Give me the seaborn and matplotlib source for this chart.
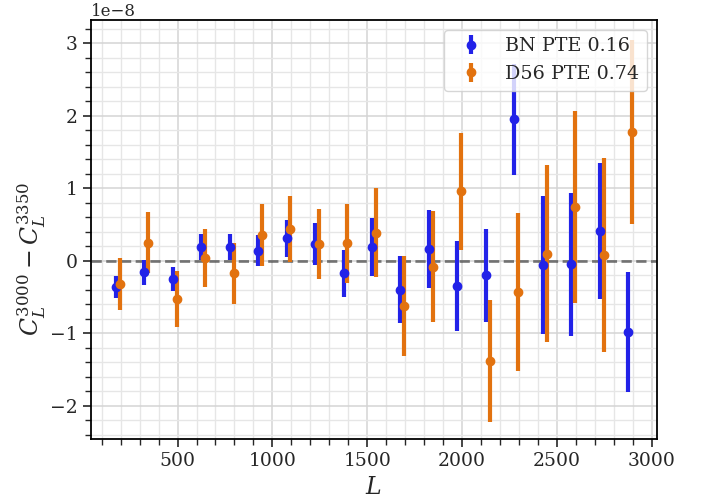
import numpy as np
import pandas as pd
import matplotlib
matplotlib.use("Agg")
import matplotlib.pyplot as plt
import seaborn as sns
from matplotlib.ticker import MultipleLocator

# multipole bin centres
L_bn = [175, 325, 475, 625, 775, 925, 1075, 1225, 1375, 1525,
        1675, 1825, 1975, 2125, 2275, 2425, 2575, 2725, 2875]
L_d56 = [195, 345, 495, 645, 795, 945, 1095, 1245, 1395, 1545,
         1695, 1845, 1995, 2145, 2295, 2445, 2595, 2745, 2895]

# C_L^3000 - C_L^3350, in units of 1e-8
bn_val = [-0.36, -0.16, -0.25, 0.19, 0.19, 0.14, 0.31, 0.23, -0.17, 0.19,
          -0.40, 0.16, -0.35, -0.20, 1.95, -0.06, -0.05, 0.41, -0.98]
bn_err = [0.15, 0.17, 0.165, 0.18, 0.185, 0.21, 0.255, 0.29, 0.325, 0.395,
          0.46, 0.54, 0.62, 0.64, 0.77, 0.955, 0.99, 0.94, 0.825]
d56_val = [-0.32, 0.25, -0.53, 0.04, -0.17, 0.36, 0.44, 0.23, 0.24, 0.39,
           -0.62, -0.08, 0.96, -1.38, -0.43, 0.10, 0.74, 0.08, 1.78]
d56_err = [0.36, 0.425, 0.385, 0.395, 0.42, 0.425, 0.455, 0.485, 0.545, 0.61,
           0.69, 0.76, 0.805, 0.845, 1.085, 1.225, 1.32, 1.34, 1.27]

labels = ["BN PTE 0.16", "D56 PTE 0.74"]
colors = ["#2222e8", "#e2720f"]

sns.set_theme(style="ticks")
plt.rcParams["font.family"] = ["DejaVu Serif"]
plt.rcParams["mathtext.fontset"] = "dejavuserif"

df = pd.DataFrame({
    "L": L_bn + L_d56,
    "val": np.array(bn_val + d56_val) * 1e-8,
    "err": np.array(bn_err + d56_err) * 1e-8,
    "field": [labels[0]] * len(L_bn) + [labels[1]] * len(L_d56),
})

fig, ax = plt.subplots(figsize=(7.04, 5.03), dpi=100)
fig.subplots_adjust(left=0.129, right=0.933, top=0.960, bottom=0.127)

for lab, col in zip(labels, colors):
    sub = df[df["field"] == lab]
    ax.errorbar(sub["L"], sub["val"], yerr=sub["err"], fmt="o", color=col,
                ms=6, elinewidth=3, capsize=0, label=lab, zorder=3)

ax.axhline(0, color="k", ls="--", lw=2, alpha=0.55, zorder=2)

ax.set_xlim(43, 3026)
ax.set_ylim(-2.46e-8, 3.32e-8)
ax.xaxis.set_major_locator(MultipleLocator(500))
ax.xaxis.set_minor_locator(MultipleLocator(100))
ax.yaxis.set_major_locator(MultipleLocator(1e-8))
ax.yaxis.set_minor_locator(MultipleLocator(0.2e-8))
ax.grid(which="major", color="#d4d4d4", lw=1.1)
ax.grid(which="minor", color="#e6e6e6", lw=1.0)
ax.set_axisbelow(True)
ax.tick_params(which="major", length=6, width=1.2, labelsize=13.5)
ax.tick_params(which="minor", length=4, width=1.0)
ax.yaxis.get_offset_text().set_fontsize(12)
for s in ax.spines.values():
    s.set_linewidth(1.3)
    s.set_color("black")

ax.set_xlabel(r"$L$", fontsize=17)
ax.set_ylabel(r"$C_L^{3000} - C_L^{3350}$", fontsize=17)
ax.yaxis.set_label_coords(-0.075, 0.43)
ax.legend(loc="upper right", fontsize=13.8)

fig.savefig("out.png", dpi=100)
